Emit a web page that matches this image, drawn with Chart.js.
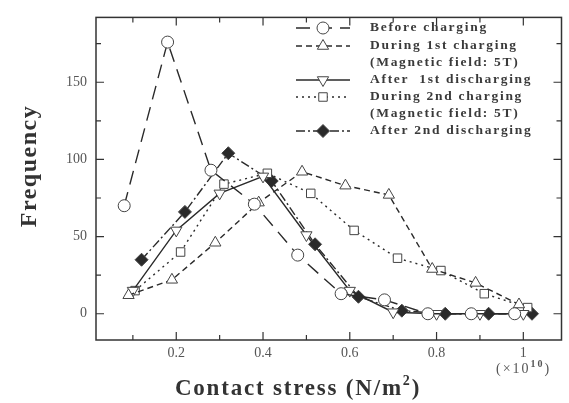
<!DOCTYPE html>
<html><head><meta charset="utf-8">
<script src="https://cdn.jsdelivr.net/npm/chart.js@4.4.1/dist/chart.umd.min.js"></script>
<style>html,body{margin:0;padding:0;background:#fff;}#wrap{width:569px;height:403px;}</style>
</head><body><div id="wrap"><canvas id="c" width="569" height="403"></canvas></div>
<script>
// ---- data ----
const seriesNames = ['Before charging', 'During 1st charging', 'After 1st discharging', 'During 2nd charging', 'After 2nd discharging'];
const xBefore   = [0.08, 0.18, 0.28, 0.38, 0.48, 0.58, 0.68, 0.78, 0.88, 0.98];
const yBefore   = [70, 176, 93, 71, 38, 13, 9, 0, 0, 0];
const xDuring1  = [0.09, 0.19, 0.29, 0.39, 0.49, 0.59, 0.69, 0.79, 0.89, 0.99];
const yDuring1  = [12, 22, 46, 72, 92, 83, 77, 29, 20, 6];
const xAfter1   = [0.10, 0.20, 0.30, 0.40, 0.50, 0.60, 0.70, 0.80, 0.90, 1.00];
const yAfter1   = [15, 54, 78, 89, 51, 15, 1, 0, 0, 0];
const xDuring2  = [0.105, 0.21, 0.31, 0.41, 0.51, 0.61, 0.71, 0.81, 0.91, 1.01];
const yDuring2  = [15, 40, 84, 91, 78, 54, 36, 28, 13, 4];
const xAfter2   = [0.12, 0.22, 0.32, 0.42, 0.52, 0.62, 0.72, 0.82, 0.92, 1.02];
const yAfter2   = [35, 66, 104, 86, 45, 11, 2, 0, 0, 0];
const xTicks = [0.2, 0.4, 0.6, 0.8, 1.0];
const xMinorTicks = [0.1, 0.3, 0.5, 0.7, 0.9];
const yTicks = [0, 50, 100, 150];
const yMinorTicks = [25, 75, 125, 175];
const legendLabels = [['Before charging'], ['During 1st charging', '(Magnetic field: 5T)'], ['After  1st discharging'], ['During 2nd charging', '(Magnetic field: 5T)'], ['After 2nd discharging']];
const yTitle = 'Frequency';
const xTitleMain = 'Contact stress (N/m';
const xTitleSup = '2';
const xTitleEnd = ')';
const xUnitMain = '(×10';
const xUnitSup = '10';

// ---- style ----
const INK = '#2a2a2a';
const SERIF = '"Liberation Serif", "DejaVu Serif", serif';
const styles = [
  {dash: [14, 8], pointStyle: 'circle', rot: 0, r: 6, fill: '#fff'},
  {dash: [6, 4], pointStyle: 'triangle', rot: 0, r: 6.5, fill: '#fff'},
  {dash: [], pointStyle: 'triangle', rot: 180, r: 6.5, fill: '#fff'},
  {dash: [2, 4], pointStyle: 'rect', rot: 0, r: 6, fill: '#fff'},
  {dash: [9, 3, 2, 3], pointStyle: 'rectRot', rot: 0, r: 6.5, fill: INK}
];
const xs = [xBefore, xDuring1, xAfter1, xDuring2, xAfter2];
const ys = [yBefore, yDuring1, yAfter1, yDuring2, yAfter2];

const datasets = seriesNames.map((n, i) => ({
  label: n,
  data: xs[i].map((x, k) => ({x: x, y: ys[i][k]})),
  borderColor: INK,
  borderWidth: 1.4,
  borderDash: styles[i].dash,
  pointStyle: styles[i].pointStyle,
  pointRotation: styles[i].rot,
  pointRadius: styles[i].r,
  pointBorderWidth: 1,
  pointBorderColor: '#444',
  pointBackgroundColor: styles[i].fill,
  tension: 0,
  fill: false
}));

function spaced(ctx, sp) { if ('letterSpacing' in ctx) ctx.letterSpacing = sp + 'px'; }

const decor = {
  id: 'decor',
  afterDraw(chart) {
    const ctx = chart.ctx, a = chart.chartArea;
    const sx = chart.scales.x, sy = chart.scales.y;
    ctx.save();
    // frame
    ctx.strokeStyle = '#333'; ctx.lineWidth = 1.5; ctx.setLineDash([]);
    ctx.strokeRect(a.left, a.top, a.right - a.left, a.bottom - a.top);
    // inward ticks
    ctx.lineWidth = 1.2;
    const tx = (vals, len) => vals.forEach(v => {
      const p = sx.getPixelForValue(v);
      if (p < a.left || p > a.right) return;
      ctx.beginPath(); ctx.moveTo(p, a.bottom); ctx.lineTo(p, a.bottom - len);
      ctx.moveTo(p, a.top); ctx.lineTo(p, a.top + len); ctx.stroke();
    });
    const ty = (vals, len) => vals.forEach(v => {
      const p = sy.getPixelForValue(v);
      if (p < a.top || p > a.bottom) return;
      ctx.beginPath(); ctx.moveTo(a.left, p); ctx.lineTo(a.left + len, p);
      ctx.moveTo(a.right, p); ctx.lineTo(a.right - len, p); ctx.stroke();
    });
    tx(xTicks, 8); tx(xMinorTicks, 5); ty(yTicks, 8); ty(yMinorTicks, 5);

    // legend
    const rows = [28, 46, 80, 97, 131];
    const lx0 = 296, lx1 = 350, mx = 323, tx0 = 370;
    ctx.font = 'bold 13.5px ' + SERIF;
    ctx.textBaseline = 'middle'; ctx.textAlign = 'left';
    legendLabels.forEach((lines, i) => {
      const y = rows[i];
      ctx.strokeStyle = INK; ctx.lineWidth = 1.4; ctx.setLineDash(styles[i].dash);
      ctx.beginPath(); ctx.moveTo(lx0, y); ctx.lineTo(lx1, y); ctx.stroke();
      ctx.setLineDash([]);
      ctx.fillStyle = styles[i].fill; ctx.strokeStyle = '#444'; ctx.lineWidth = 1;
      Chart.helpers.drawPoint(ctx, {pointStyle: styles[i].pointStyle, radius: styles[i].r, rotation: styles[i].rot, borderWidth: 1}, mx, y);
      ctx.fillStyle = '#3a3a3a';
      spaced(ctx, 1.7);
      lines.forEach((t, j) => ctx.fillText(t, tx0, y + j * 17));
      spaced(ctx, 0);
    });

    // y title
    ctx.fillStyle = '#333';
    ctx.save();
    ctx.translate(30, 166); ctx.rotate(-Math.PI / 2);
    ctx.font = 'bold 24px ' + SERIF; ctx.textAlign = 'center'; ctx.textBaseline = 'middle';
    spaced(ctx, 1.5);
    ctx.fillText(yTitle, 0, 0);
    spaced(ctx, 0);
    ctx.restore();

    // x title
    ctx.textAlign = 'left'; ctx.textBaseline = 'alphabetic';
    const big = 'bold 23px ' + SERIF, small = 'bold 14px ' + SERIF;
    spaced(ctx, 1.8);
    ctx.font = big; const w1 = ctx.measureText(xTitleMain).width;
    ctx.font = small; const w2 = ctx.measureText(xTitleSup).width;
    ctx.font = big; const w3 = ctx.measureText(xTitleEnd).width;
    let x = 298 - (w1 + w2 + w3) / 2, base = 395;
    ctx.font = big; ctx.fillText(xTitleMain, x, base); x += w1;
    ctx.font = small; ctx.fillText(xTitleSup, x, base - 10); x += w2;
    ctx.font = big; ctx.fillText(xTitleEnd, x, base);
    spaced(ctx, 0);

    // unit
    ctx.fillStyle = '#555';
    spaced(ctx, 2);
    let ux = 496, ub = 373;
    ctx.font = '14px ' + SERIF; ctx.fillText(xUnitMain, ux, ub); ux += ctx.measureText(xUnitMain).width;
    ctx.font = 'bold 10px ' + SERIF; ctx.fillText(xUnitSup, ux, ub - 6); ux += ctx.measureText(xUnitSup).width;
    ctx.font = '14px ' + SERIF; ctx.fillText(')', ux, ub);
    spaced(ctx, 0);
    ctx.restore();
  }
};

new Chart(document.getElementById('c'), {
  type: 'line',
  data: {datasets: datasets},
  options: {
    responsive: false,
    animation: false,
    devicePixelRatio: 1,
    layout: {padding: {left: 0, right: 3, top: 10, bottom: 0}},
    plugins: {legend: {display: false}, tooltip: {enabled: false}},
    scales: {
      x: {
        type: 'linear', min: 0.015, max: 1.088,
        afterBuildTicks: s => { s.ticks = xTicks.map(v => ({value: v})); },
        afterFit: s => { s.height = 63; },
        grid: {display: false, drawTicks: false},
        border: {display: false},
        ticks: {padding: 5, color: '#555', font: {family: SERIF, size: 14}, callback: v => String(Math.round(v * 10) / 10)}
      },
      y: {
        type: 'linear', min: -17, max: 192,
        afterBuildTicks: s => { s.ticks = yTicks.map(v => ({value: v})); },
        afterFit: s => { s.width = 96; },
        grid: {display: false, drawTicks: false},
        border: {display: false},
        ticks: {padding: 9, color: '#555', font: {family: SERIF, size: 14}}
      }
    }
  },
  plugins: [decor]
});
</script>
</body></html>
